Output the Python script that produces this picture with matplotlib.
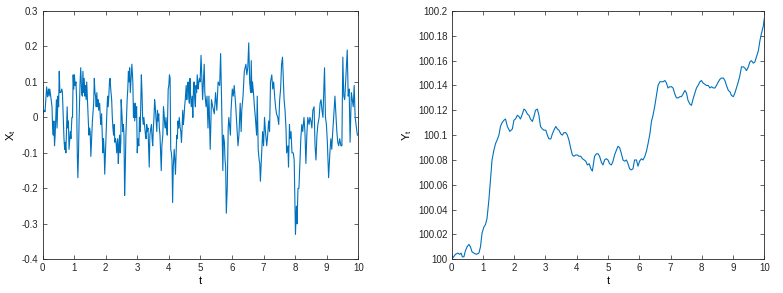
import matplotlib
matplotlib.use("Agg")
import matplotlib.pyplot as plt
from matplotlib.ticker import FuncFormatter

# ── Data ──────────────────────────────────────────────────────────────────────
t_x = [0.00, 0.05, 0.08, 0.13, 0.16, 0.19, 0.21, 0.23, 0.26, 0.30, 0.32, 0.34, 0.36, 0.38, 0.40,
       0.42, 0.44, 0.46, 0.49, 0.51, 0.53, 0.55, 0.58, 0.61, 0.63, 0.65, 0.68, 0.70, 0.72,
       0.74, 0.76, 0.78, 0.80, 0.82, 0.84, 0.88, 0.90, 0.93, 0.95, 0.97, 0.99, 1.01, 1.03,
       1.06, 1.08, 1.10, 1.12, 1.14, 1.16, 1.19, 1.21, 1.24, 1.26, 1.28, 1.30, 1.32, 1.34,
       1.36, 1.38, 1.40, 1.43, 1.45, 1.47, 1.49, 1.51, 1.53, 1.55, 1.58, 1.62, 1.64, 1.66,
       1.68, 1.70, 1.72, 1.74, 1.76, 1.78, 1.81, 1.83, 1.85, 1.87, 1.89, 1.91, 1.93, 1.95,
       1.97, 2.00, 2.02, 2.04, 2.06, 2.08, 2.10, 2.12, 2.14, 2.16, 2.19, 2.21, 2.23, 2.25,
       2.27, 2.29, 2.31, 2.33, 2.35, 2.38, 2.40, 2.42, 2.44, 2.46, 2.48,
       2.49, 2.52, 2.54, 2.56, 2.58, 2.60, 2.62, 2.64, 2.68, 2.70, 2.72, 2.74, 2.76, 2.78,
       2.80, 2.83, 2.86, 2.88, 2.90, 2.92, 2.94, 2.96, 2.98, 3.00, 3.02, 3.05, 3.07, 3.09,
       3.11, 3.13, 3.15, 3.17, 3.19, 3.21, 3.24, 3.26, 3.28, 3.30, 3.32, 3.34, 3.36, 3.38,
       3.40, 3.43, 3.45, 3.47, 3.49, 3.51, 3.53, 3.55, 3.57, 3.59, 3.62, 3.64, 3.66, 3.68,
       3.70, 3.72, 3.74, 3.76, 3.78, 3.81, 3.83, 3.85, 3.87, 3.89, 3.91, 3.93, 3.95, 3.98,
       4.00, 4.02, 4.04, 4.06, 4.08, 4.10, 4.12, 4.14, 4.17, 4.19, 4.21, 4.23, 4.25, 4.27,
       4.29, 4.31, 4.33, 4.36, 4.38, 4.40, 4.42, 4.44, 4.46, 4.48, 4.50, 4.52, 4.55, 4.57,
       4.59, 4.61, 4.63, 4.65, 4.67, 4.69, 4.71, 4.74, 4.76, 4.78, 4.80, 4.82, 4.84, 4.86,
       4.88, 4.90, 4.93, 4.95, 4.97, 4.99, 5.02,
       5.05, 5.07, 5.12, 5.14, 5.18, 5.21, 5.24, 5.27, 5.31, 5.35, 5.39, 5.44, 5.48, 5.52,
       5.56, 5.61, 5.64, 5.67, 5.71, 5.73, 5.76, 5.78, 5.80, 5.82, 5.85, 5.88, 5.90, 5.95,
       5.97, 6.01, 6.04, 6.07, 6.12, 6.16, 6.19, 6.22, 6.26, 6.29, 6.31, 6.35, 6.39, 6.44,
       6.47, 6.50, 6.53, 6.56, 6.59, 6.61, 6.63, 6.65, 6.68, 6.71, 6.74, 6.78, 6.80, 6.83,
       6.86, 6.88, 6.90, 6.94, 6.97, 7.00, 7.03, 7.06, 7.10, 7.13, 7.16, 7.19, 7.22, 7.26,
       7.29, 7.32, 7.35, 7.38, 7.41, 7.45, 7.48, 7.51, 7.54, 7.57, 7.60, 7.63, 7.65, 7.68,
       7.71, 7.73, 7.77, 7.79, 7.82, 7.84, 7.87, 7.90, 7.94, 7.97, 8.01, 8.04, 8.06, 8.09,
       8.12, 8.15, 8.18, 8.21, 8.24, 8.28, 8.31, 8.34, 8.37, 8.40, 8.44, 8.47, 8.50, 8.53,
       8.56, 8.60, 8.63, 8.66, 8.69, 8.72, 8.76, 8.79, 8.82, 8.85, 8.88, 8.93, 8.96, 8.99,
       9.02, 9.06, 9.10, 9.13, 9.16, 9.19, 9.22, 9.26, 9.29, 9.32, 9.35, 9.38, 9.41, 9.45,
       9.48, 9.51, 9.54, 9.57, 9.61, 9.65, 9.68, 9.71, 9.74, 9.78, 9.81, 9.84, 9.87, 9.90,
       9.94, 9.97, 10.00]
x_vals = [0.01, 0.02, 0.016, 0.086, 0.058, 0.08, 0.06, 0.08, 0.06, 0.03, -0.03, -0.05, -0.01, -0.08, -0.05,
          0.0, 0.05, -0.03, 0.06, 0.03, 0.13, 0.07, 0.07, 0.08, 0.07, 0.02, -0.06, -0.09, -0.07,
          -0.1, -0.04, 0.03, -0.03, -0.01, -0.09, -0.04, -0.06, 0.0, 0.0, 0.12, 0.08, 0.12, 0.09,
          0.1, 0.05, -0.1, -0.17, -0.1, 0.0, 0.1, 0.14, 0.07, 0.06, 0.13, 0.07, 0.11, 0.06,
          0.09, 0.05, 0.1, 0.03, -0.01, -0.05, -0.03, -0.04, -0.11, -0.07, -0.01, 0.04, 0.11, 0.07,
          0.06, 0.03, 0.07, 0.03, 0.05, 0.02, 0.04, 0.0, -0.02, 0.01, -0.05, -0.1, -0.06, -0.09,
          -0.16, -0.08, -0.03, 0.02, 0.06, 0.03, 0.06, 0.1, 0.11, 0.08, 0.05, 0.0, -0.03, -0.05,
          -0.02, -0.07, -0.06, -0.07, -0.1, -0.06, -0.13, -0.08, -0.05, -0.1, -0.07,
          0.05, 0.0, -0.04, -0.02, -0.05, -0.22, -0.15, -0.05, 0.05, 0.08, 0.13, 0.1, 0.14, 0.07,
          0.1, 0.15, 0.1, 0.0, 0.04, -0.01, 0.04, 0.0, 0.03, -0.1, -0.06, -0.08, 0.0, -0.04,
          0.03, 0.12, 0.07, 0.0, -0.02, 0.0, -0.03, -0.05, -0.06, -0.02, -0.04, -0.03, -0.09, -0.14,
          -0.05, -0.03, -0.02, -0.06, -0.08, -0.03, 0.0, 0.05, 0.03, 0.0, -0.04, 0.02, -0.01, 0.01,
          -0.03, -0.05, -0.1, -0.15, -0.08, -0.05, 0.03, 0.01, -0.02, -0.03, 0.0, -0.03, -0.05, 0.08,
          0.09, 0.12, 0.11, -0.09, -0.1, -0.12, -0.24, -0.14, -0.09, -0.12, -0.16, -0.1, -0.05, -0.06,
          -0.01, -0.03, 0.0, -0.03, -0.04, -0.07, -0.03, 0.02, -0.02, 0.0, 0.03, 0.05, 0.09, 0.05,
          0.08, 0.1, 0.06, 0.04, 0.11, 0.06, 0.03, 0.06, 0.0, 0.08, 0.1, 0.05, 0.03, 0.09,
          0.07, 0.12, 0.08, 0.1, 0.11, 0.1, 0.175,
          0.1, 0.05, 0.15, 0.07, 0.03, 0.06, -0.03, 0.06, -0.09, 0.05, 0.03, 0.01, 0.07, 0.02,
          0.1, 0.09, 0.18, 0.05, -0.15, -0.05, -0.07, -0.12, -0.14, -0.27, -0.2, -0.03, 0.0, -0.05,
          0.02, 0.08, 0.06, 0.09, 0.03, -0.03, -0.08, -0.05, 0.04, -0.04, 0.02, 0.06, 0.13, 0.15,
          0.12, 0.14, 0.21, 0.1, 0.07, 0.16, 0.07, 0.1, 0.07, 0.03, 0.0, -0.05, 0.06, -0.09,
          -0.12, -0.13, -0.18, -0.1, -0.04, -0.08, 0.0, -0.04, -0.08, -0.05, -0.01, -0.04, 0.1, 0.12,
          0.08, 0.1, 0.06, 0.03, 0.01, 0.0, -0.02, 0.05, 0.08, 0.15, 0.17, 0.1, 0.05, 0.02,
          -0.03, -0.1, -0.08, -0.14, -0.02, -0.06, -0.04, -0.1, -0.1, -0.12, -0.33, -0.25, -0.3, -0.2,
          -0.2, -0.13, -0.06, -0.02, -0.04, 0.0, -0.04, -0.13, -0.05, 0.0, -0.02, 0.0, -0.01, -0.03,
          0.02, 0.03, -0.08, -0.12, -0.05, -0.02, 0.0, 0.04, 0.05, 0.02, 0.0, 0.14, 0.0, -0.02,
          -0.07, -0.17, -0.1, -0.06, -0.09, -0.04, 0.0, 0.06, 0.01, -0.04, -0.07, -0.08, -0.06, -0.08,
          -0.08, 0.17, 0.06, 0.05, 0.12, 0.19, 0.06, 0.08, -0.07, 0.07, 0.05, 0.03, 0.09, 0.0,
          -0.03, -0.05, -0.05]

t_y = [0.00, 0.06, 0.12, 0.19, 0.26, 0.30, 0.34, 0.39, 0.44, 0.49, 0.55, 0.60, 0.65, 0.71,
       0.79, 0.87, 0.92, 0.97, 1.03, 1.08, 1.13, 1.19, 1.24, 1.29, 1.35, 1.40, 1.45, 1.51,
       1.56, 1.61, 1.67, 1.72, 1.78, 1.86, 1.94, 1.99, 2.04, 2.10, 2.15, 2.20, 2.26, 2.31,
       2.36, 2.42, 2.47, 2.52, 2.58, 2.63, 2.68, 2.74, 2.79, 2.84, 2.90, 2.95, 3.01, 3.06,
       3.11, 3.17, 3.22, 3.27, 3.33, 3.38, 3.43, 3.49, 3.54, 3.59, 3.65, 3.70, 3.75, 3.81,
       3.86, 3.91, 3.97, 4.02, 4.07, 4.13, 4.18, 4.24, 4.29, 4.34, 4.40, 4.45, 4.50,
       4.57, 4.63, 4.68, 4.73, 4.79, 4.84, 4.89, 4.95, 5.00, 5.05, 5.11, 5.16, 5.21, 5.27,
       5.32, 5.37, 5.43, 5.48, 5.53, 5.59, 5.64, 5.69, 5.75, 5.80, 5.85, 5.91, 5.96, 6.01,
       6.07, 6.12, 6.18, 6.23, 6.28, 6.34, 6.39, 6.44, 6.50, 6.55, 6.60, 6.66, 6.71, 6.76,
       6.82, 6.87, 6.92, 6.98, 7.03, 7.08, 7.14, 7.19, 7.24, 7.30, 7.35, 7.40, 7.46, 7.51,
       7.56, 7.62, 7.67, 7.72, 7.78, 7.83, 7.88, 7.94, 7.99, 8.04, 8.10, 8.15, 8.21, 8.26,
       8.31, 8.37, 8.42, 8.47, 8.53, 8.58, 8.63, 8.69, 8.74, 8.79, 8.85, 8.90, 8.95, 9.01,
       9.06, 9.11, 9.17, 9.22, 9.27, 9.33, 9.38, 9.43, 9.49, 9.54, 9.59, 9.65, 9.70, 9.75,
       9.81, 9.86, 9.91, 9.97, 10.00]
y_vals = [100.000, 100.002, 100.004, 100.005, 100.004, 100.005, 100.002, 100.002, 100.007,
          100.010, 100.012, 100.010, 100.006, 100.005, 100.004, 100.005, 100.010, 100.021,
          100.026, 100.028, 100.033, 100.048, 100.064, 100.080, 100.088, 100.093, 100.096,
          100.100, 100.107, 100.110, 100.112, 100.113, 100.107, 100.103, 100.105, 100.112,
          100.113, 100.116, 100.115, 100.113, 100.117, 100.121, 100.120, 100.117, 100.116,
          100.113, 100.111, 100.115, 100.120, 100.121, 100.116, 100.107, 100.105, 100.104,
          100.104, 100.100, 100.097, 100.097, 100.101, 100.104, 100.107, 100.105, 100.104,
          100.101, 100.100, 100.102, 100.102, 100.100, 100.096, 100.089, 100.084, 100.083,
          100.084, 100.084, 100.083, 100.083, 100.081, 100.080, 100.079, 100.076, 100.077,
          100.073, 100.071,
          100.083, 100.085, 100.085, 100.083, 100.078, 100.076, 100.080, 100.081, 100.080,
          100.077, 100.076, 100.079, 100.084, 100.088, 100.091, 100.090, 100.085, 100.080,
          100.079, 100.080, 100.077, 100.073, 100.072, 100.073, 100.080, 100.080, 100.075,
          100.079, 100.081, 100.080, 100.083, 100.087, 100.093, 100.101, 100.111, 100.116,
          100.124, 100.132, 100.140, 100.143, 100.143, 100.143, 100.144, 100.142, 100.138,
          100.139, 100.139, 100.138, 100.133, 100.130, 100.130, 100.131, 100.131, 100.133,
          100.136, 100.134, 100.128, 100.125, 100.124, 100.129, 100.134, 100.138, 100.140,
          100.143, 100.144, 100.142, 100.141, 100.140, 100.140, 100.138, 100.139, 100.138,
          100.138, 100.140, 100.143, 100.145, 100.146, 100.146, 100.144, 100.140, 100.136,
          100.135, 100.132, 100.131, 100.134, 100.138, 100.143, 100.148, 100.155, 100.155,
          100.154, 100.152, 100.155, 100.159, 100.160, 100.158, 100.159, 100.163, 100.168,
          100.176, 100.182, 100.188, 100.194]

x_ticks = list(range(0, 11))
left_yticks = [-0.4, -0.3, -0.2, -0.1, 0, 0.1, 0.2, 0.3]
right_yticks = [100, 100.02, 100.04, 100.06, 100.08, 100.1, 100.12, 100.14, 100.16, 100.18, 100.2]

# ── Style ─────────────────────────────────────────────────────────────────────
LINE = "#0072BD"
AXC = "#262626"
plt.rcParams["font.family"] = ["Liberation Sans", "DejaVu Sans"]
plt.rcParams["mathtext.default"] = "regular"

fig = plt.figure(figsize=(7.83, 2.93), dpi=100)
ax1 = fig.add_axes([0.0543, 0.115, 0.4033, 0.8475])
ax2 = fig.add_axes([0.5769, 0.115, 0.3992, 0.8475])

fmt = FuncFormatter(lambda v, _: "%g" % round(v, 4))

def _style(ax):
    ax.tick_params(direction="in", top=True, right=True, labelsize=7,
                   colors=AXC, length=3, width=0.5, pad=3)
    for sp in ax.spines.values():
        sp.set_color(AXC)
        sp.set_linewidth(0.6)
    ax.set_xticks(x_ticks)
    ax.set_xlim(0, 10)
    ax.yaxis.set_major_formatter(fmt)

ax1.plot(t_x, x_vals, color=LINE, lw=0.8)
_style(ax1)
ax1.set_ylim(-0.4, 0.3)
ax1.set_yticks(left_yticks)
ax1.set_xlabel("t", fontsize=8, labelpad=2)
ax1.set_ylabel("X$_t$", fontsize=8, labelpad=3)

ax2.plot(t_y, y_vals, color=LINE, lw=0.8)
_style(ax2)
ax2.set_ylim(100, 100.2)
ax2.set_yticks(right_yticks)
ax2.set_xlabel("t", fontsize=8, labelpad=2)
ax2.set_ylabel("Y$_t$", fontsize=8, labelpad=3)

fig.savefig("out.png", dpi=100)
